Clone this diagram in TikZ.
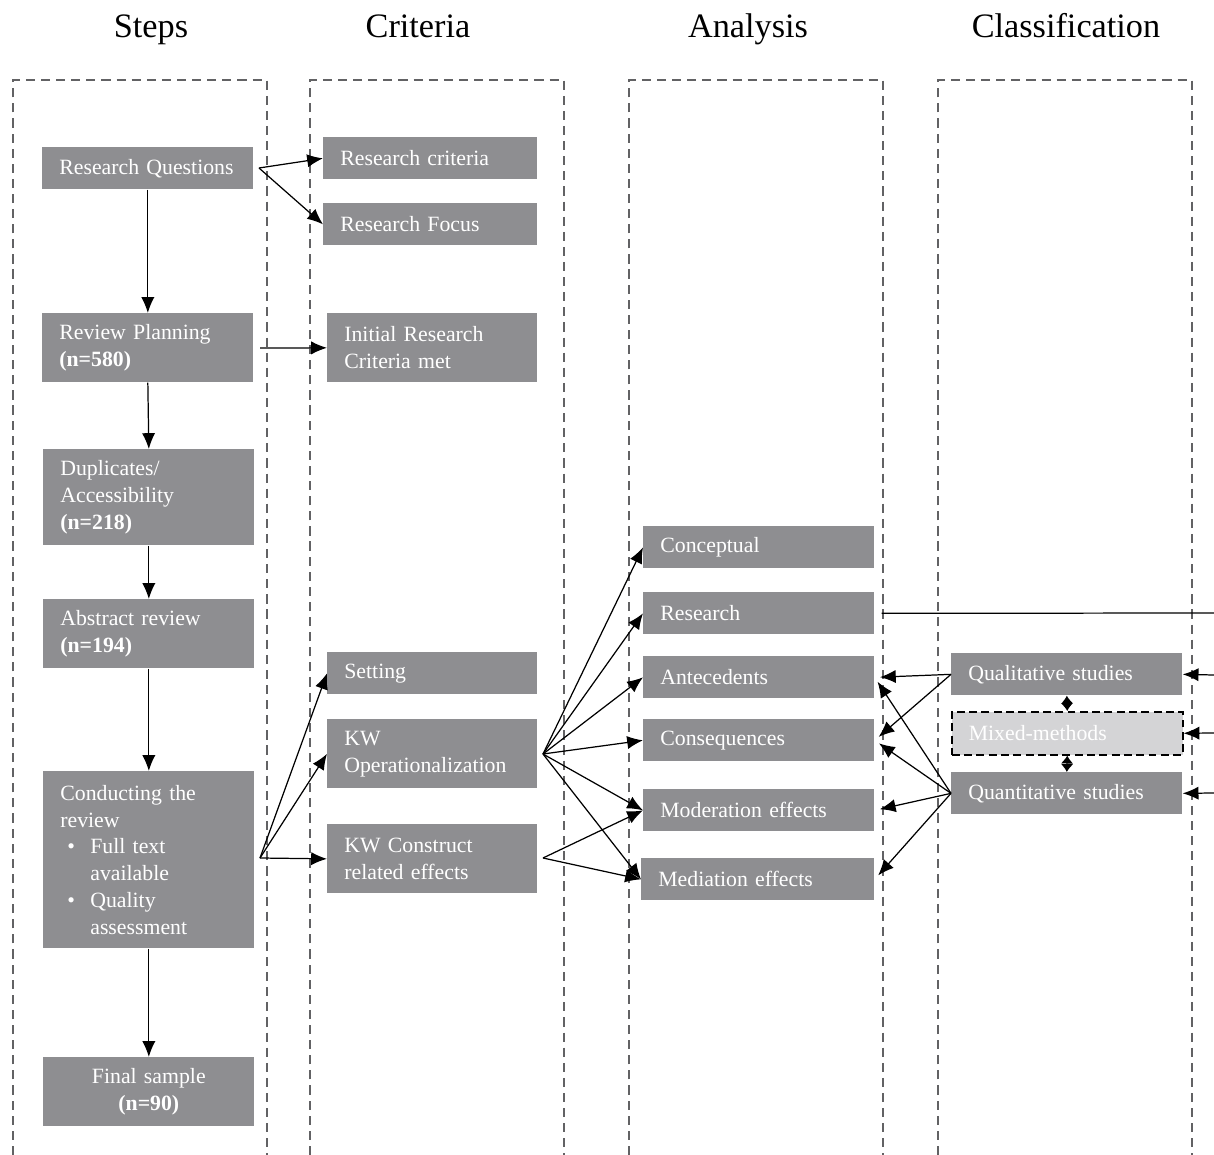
\documentclass[tikz,border=0pt]{standalone}
\usepackage{fontspec}
\setmainfont{Liberation Serif}
\usetikzlibrary{
  arrows.meta,
  positioning,
  calc,
}
\definecolor{boxgray}{RGB}{142,142,145}
\definecolor{mixgray}{RGB}{212,212,214}
\definecolor{lanegray}{RGB}{98,98,100}

\begin{document}
\begin{tikzpicture}[
  x=0.02cm, y=-0.02cm,
  font=\fontsize{12.4}{15.2}\selectfont,
  box/.style={fill=boxgray, text=white, anchor=north west, align=left,
    inner xsep=0.34cm, inner ysep=0pt, minimum height=0.84cm},
  stepbox/.style={box, text width=3.54cm},
  critbox/.style={box, text width=3.52cm},
  anabox/.style={box, text width=3.94cm},
  tallbox/.style={minimum height=1.38cm},
  mixbox/.style={box, fill=mixgray, draw=black, line width=0.9pt,
    dash pattern=on 4.5pt off 2.5pt},
  lane/.style={draw=lanegray, line width=1.5pt, dash pattern=on 5.2pt off 3.4pt},
  header/.style={font=\fontsize{19.5}{22}\selectfont, anchor=base},
  arr/.style={line width=0.7pt, -{Latex[length=9pt,width=7.5pt]}},
  dbl/.style={line width=0.7pt, {Latex[length=4.5pt,width=7pt]}-{Latex[length=4.5pt,width=7pt]}},
]

\useasboundingbox (0,0) rectangle (1214,1155);

% lanes and headers
\foreach \l/\r in {13/267, 310/564, 629/883, 938/1192}
  \draw[lane] (\l,1155) -- (\l,80) -- (\r,80) -- (\r,1155);

\node[header] (hsteps) at (151,38) {Steps};
\node[header] (hcrit) at (418,38) {Criteria};
\node[header] (hana) at (748,38) {Analysis};
\node[header] (hclass) at (1066,38) {Classification};

% steps
\node[stepbox] (rq) at (42,147) {Research Questions};
\node[stepbox, tallbox] (rp) at (42,313) {Review Planning\\\textbf{(n=580)}};
\node[stepbox, minimum height=1.92cm] (dup) at (43,449) {Duplicates/\\Accessibility\\\textbf{(n=218)}};
\node[stepbox, tallbox] (abs) at (43,599) {Abstract review\\\textbf{(n=194)}};
\node[stepbox, minimum height=3.54cm] (cond) at (43,771) {Conducting the\\review\\
  \hspace*{0.14cm}\makebox[0.46cm][l]{\textbullet}Full text\\\hspace*{0.6cm}available\\
  \hspace*{0.14cm}\makebox[0.46cm][l]{\textbullet}Quality\\\hspace*{0.6cm}assessment};
\node[stepbox, tallbox, align=center] (fin) at (43,1057) {Final sample\\\textbf{(n=90)}};

% criteria
\node[critbox, text width=3.6cm] (rc) at (323,137) {Research criteria};
\node[critbox, text width=3.6cm] (rf) at (323,203) {Research Focus};
\node[critbox, tallbox] (irc) at (327,313) {Initial Research\\Criteria met};
\node[critbox] (set) at (327,652) {Setting};
\node[critbox, tallbox] (kwop) at (327,719) {KW\\Operationalization};
\node[critbox, tallbox] (kwct) at (327,824) {KW Construct\\related effects};

% analysis
\node[anabox] (concept) at (643,526) {Conceptual};
\node[anabox] (res) at (643,592) {Research};
\node[anabox] (ante) at (643,656) {Antecedents};
\node[anabox] (cons) at (643,719) {Consequences};
\node[anabox] (moder) at (643,789) {Moderation effects};
\node[anabox, text width=3.98cm] (medi) at (641,858) {Mediation effects};

% classification
\node[anabox] (qual) at (951,653) {Qualitative studies};
\node[anabox, mixbox, minimum height=0.86cm] (mixed) at (951,711) {Mixed-methods};
\node[anabox] (quant) at (951,772) {Quantitative studies};

% fork points and free ends
\coordinate (rqfork) at (259,168);
\coordinate (rpfork) at (260,348);
\coordinate (cdfork) at (260,858);
\coordinate (opfork) at (543,754);
\coordinate (ctfork) at (543,858);
\coordinate (resout) at (1214,613);
\coordinate (qualin) at (1214,675);
\coordinate (mixin) at (1214,733);
\coordinate (quantin) at (1214,793);

\draw[arr] (rq.south) -- (rp.north);
\draw[arr] (rp.south) -- (dup.north);
\draw[arr] (dup.south) -- (abs.north);
\draw[arr] (abs.south) -- (cond.north);
\draw[arr] (cond.south) -- (fin.north);

\draw[arr] (rqfork) -- (rc.west);
\draw[arr] (rqfork) -- (rf.west);
\draw[arr] (rpfork) -- (irc.west);
\foreach \t in {set, kwop, kwct}
  \draw[arr] (cdfork) -- (\t.west);

\foreach \t in {concept, res, ante, cons, moder, medi}
  \draw[arr] (opfork) -- (\t.west);
\draw[arr] (ctfork) -- (moder.west);
\draw[arr] (ctfork) -- (medi.west);

\draw[line width=0.7pt, shorten <=4pt] (res.east) -- (resout);

\draw[arr, shorten >=3pt] (qual.west) -- (ante.east);
\draw[arr, shorten >=3pt] (qual.west) -- (cons.east);
\foreach \t in {ante, cons, moder, medi}
  \draw[arr, shorten >=3pt] (quant.west) -- (\t.east);

\draw[dbl] (qual.south) -- (mixed.north);
\draw[dbl] (mixed.south) -- (quant.north);

\draw[arr] (qualin) -- (qual.east);
\draw[arr] (mixin) -- (mixed.east);
\draw[arr] (quantin) -- (quant.east);

\end{tikzpicture}
\end{document}
